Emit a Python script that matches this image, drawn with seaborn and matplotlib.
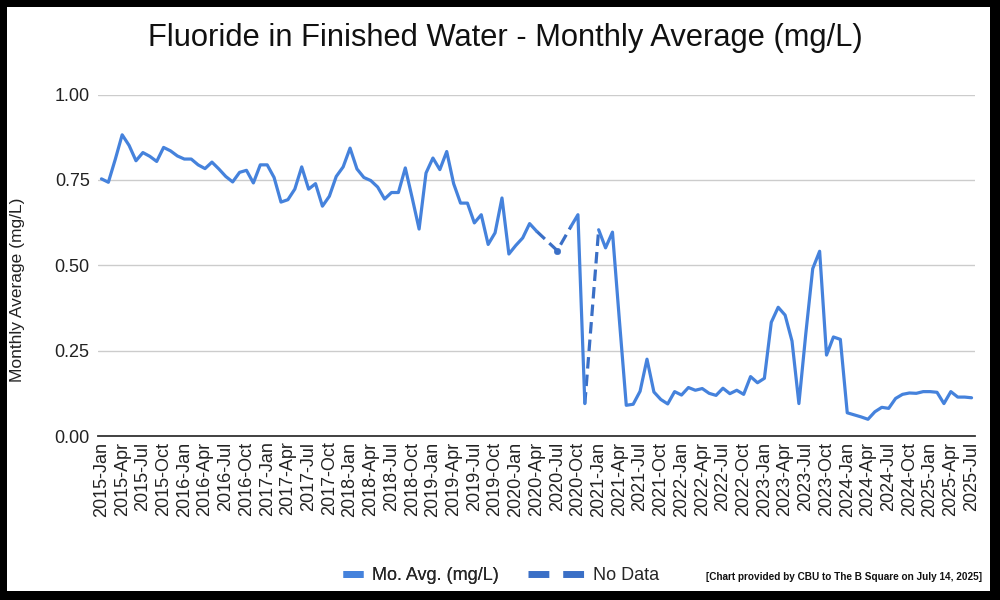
import numpy as np
import pandas as pd
import matplotlib
matplotlib.use("Agg")
import matplotlib.pyplot as plt
import seaborn as sns
from matplotlib.lines import Line2D
from matplotlib.patches import Rectangle

# ---------------- data ----------------
YEARS = list(range(2015, 2026))
MONTH_ABBR = ["Jan", "Feb", "Mar", "Apr", "May", "Jun",
              "Jul", "Aug", "Sep", "Oct", "Nov", "Dec"]
months = [f"{y}-{m}" for y in YEARS for m in MONTH_ABBR][:127]

nan = np.nan
mo_avg = [
    # 2015
    0.753, 0.743, 0.810, 0.882, 0.851, 0.806, 0.830, 0.819, 0.804, 0.845, 0.835, 0.820,
    # 2016
    0.811, 0.811, 0.794, 0.783, 0.802, 0.782, 0.760, 0.744, 0.772, 0.778, 0.741, 0.794,
    # 2017
    0.794, 0.757, 0.685, 0.692, 0.723, 0.788, 0.723, 0.739, 0.673, 0.702, 0.760, 0.788,
    # 2018
    0.843, 0.782, 0.757, 0.748, 0.729, 0.694, 0.713, 0.713, 0.785, 0.697, 0.606, 0.770,
    # 2019
    0.814, 0.780, 0.833, 0.739, 0.682, 0.682, 0.624, 0.648, 0.561, 0.595, 0.697, 0.533,
    # 2020
    0.558, 0.580, 0.622, 0.600, nan, nan, 0.543, nan, 0.614, 0.648, 0.095, nan,
    # 2021
    0.604, 0.551, 0.597, 0.340, 0.090, 0.093, 0.131, 0.225, 0.129, 0.107, 0.094, 0.130,
    # 2022
    0.120, 0.142, 0.134, 0.139, 0.125, 0.119, 0.140, 0.124, 0.134, 0.122, 0.174, 0.156,
    # 2023
    0.169, 0.333, 0.377, 0.354, 0.278, 0.095, 0.300, 0.490, 0.541, 0.237, 0.290, 0.283,
    # 2024
    0.068, 0.062, 0.056, 0.049, 0.071, 0.084, 0.081, 0.110, 0.122, 0.126, 0.125, 0.130,
    # 2025
    0.130, 0.128, 0.095, 0.130, 0.114, 0.114, 0.112,
]

nodata_months = ["2020-Apr", "2020-Jul", "2020-Sep", "2020-Nov", "2021-Jan"]
nodata_values = [0.600, 0.543, 0.614, 0.095, 0.604]
nodata_segment = [1, 1, 1, 2, 2]

ytick_values = [0.0, 0.25, 0.50, 0.75, 1.00]
ytick_labels = ["0.00", "0.25", "0.50", "0.75", "1.00"]
xtick_labels = months[::3]

title = "Fluoride in Finished Water - Monthly Average (mg/L)"
ylabel = "Monthly Average (mg/L)"
legend_labels = ["Mo. Avg. (mg/L)", "No Data"]
footnote = "[Chart provided by CBU to The B Square on July 14, 2025]"

SOLID_C = "#4582dc"
DASH_C = "#3a6fc6"

# ---------------- frames ----------------
df = pd.DataFrame({"month": months, "idx": np.arange(len(months)), "value": mo_avg})
valid = df["value"].notna()
df["seg"] = (valid != valid.shift()).cumsum()
df_solid = df[valid].copy()
seg_sizes = df_solid.groupby("seg")["idx"].transform("size")
df_lines = df_solid[seg_sizes > 1]
df_single = df_solid[seg_sizes == 1]

pos = {m: i for i, m in enumerate(months)}
df_nd = pd.DataFrame({"idx": [pos[m] for m in nodata_months],
                      "value": nodata_values, "seg": nodata_segment})

# ---------------- plot ----------------
sns.set_theme(style="white")
plt.rcParams["font.family"] = ["Liberation Sans", "DejaVu Sans"]

fig = plt.figure(figsize=(10, 6), dpi=100)
fig.patch.set_facecolor("white")
ax = fig.add_axes([0.098, 0.2733, 0.877, 0.5692])

sns.lineplot(data=df_nd, x="idx", y="value", units="seg", estimator=None,
             color=DASH_C, lw=2.3, ax=ax, legend=False)
for ln in ax.lines:
    ln.set_dashes((3.6, 1.9))
    ln.set_solid_capstyle("butt")
sns.lineplot(data=df_lines, x="idx", y="value", units="seg", estimator=None,
             color=SOLID_C, lw=2.3, ax=ax, legend=False)
sns.scatterplot(data=df_single, x="idx", y="value", color=DASH_C, s=22,
                edgecolor=DASH_C, ax=ax, legend=False, zorder=5)

ax.set_xlim(-0.5, len(months) - 0.5)
ax.set_ylim(0, 1.0)
ax.set_yticks(ytick_values)
ax.set_yticklabels(ytick_labels)
ax.set_xticks(np.arange(0, len(months), 3))
ax.set_xticklabels(xtick_labels, rotation=90)
ax.set_xlabel("")
ax.set_ylabel("")
ax.yaxis.grid(True, color="#cccccc", lw=1.0)
ax.xaxis.grid(False)
for s in ["top", "right", "left"]:
    ax.spines[s].set_visible(False)
ax.spines["bottom"].set_color("#333333")
ax.spines["bottom"].set_linewidth(1.3)
ax.spines["bottom"].set_zorder(6)
ax.tick_params(axis="both", length=0, labelsize=13, colors="#222222")
ax.tick_params(axis="y", pad=6)
ax.tick_params(axis="x", pad=4)

fig.text(0.505, 1 - 38 / 600, title, ha="center", va="center",
         fontsize=22.2, color="#111111")
fig.text(0.018, 0.517, ylabel, rotation=90, ha="center", va="center",
         fontsize=12.5, color="#222222")

h1 = [Line2D([0], [0], color=SOLID_C, lw=5, solid_capstyle="butt")]
h2 = [Line2D([0], [0], color=DASH_C, lw=5, dashes=(3, 2), dash_capstyle="butt")]
leg1 = fig.legend(h1, legend_labels[:1], loc="center left",
                  bbox_to_anchor=(0.343, 0.04), frameon=False, fontsize=13,
                  handlelength=1.1, handletextpad=0.5, borderpad=0, borderaxespad=0)
leg2 = fig.legend(h2, legend_labels[1:], loc="center left",
                  bbox_to_anchor=(0.528, 0.04), frameon=False, fontsize=13,
                  handlelength=3.1, handletextpad=0.5, borderpad=0, borderaxespad=0)
fig.add_artist(leg1)

fig.text(0.982, 0.038, footnote, ha="right", va="center", fontsize=7.2,
         fontweight="bold", family=["Liberation Sans", "DejaVu Sans"],
         color="#111111")

# black frame around the figure
for rect in [(0, 0, 0.007, 1), (0.990, 0, 0.010, 1), (0, 0.988, 1, 0.012), (0, 0, 1, 0.015)]:
    fig.patches.append(Rectangle(rect[:2], rect[2], rect[3], transform=fig.transFigure,
                                 facecolor="black", edgecolor="none", zorder=10))

fig.savefig("out.png", dpi=100, facecolor="white")
